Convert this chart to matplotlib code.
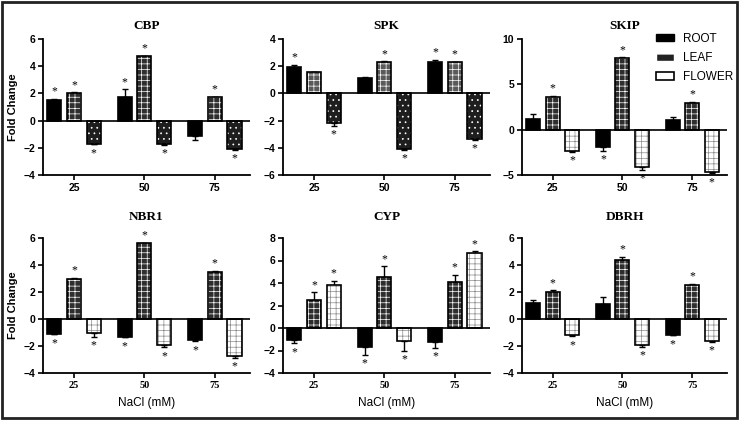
import numpy as np
import matplotlib
matplotlib.use('Agg')
import matplotlib.pyplot as plt
from matplotlib.patches import Rectangle, Patch

# NaCl concentration groups and tissues
conc = ['25', '50', '75']
tissues = ['ROOT', 'LEAF', 'FLOWER']

# fold change per gene: rows = ROOT, LEAF, FLOWER ; cols = 25, 50, 75 mM
cbp = [[1.54, 1.74, -1.10], [2.03, 4.73, 1.72], [-1.69, -1.72, -2.06]]
cbp_err = [[0.05, 0.55, 0.30], [0.05, 0.05, 0.05], [0.05, 0.05, 0.10]]
cbp_sig = [[1, 1, 0], [1, 1, 1], [1, 1, 1]]

spk = [[1.92, 1.13, 2.31], [1.55, 2.31, 2.28], [-2.14, -4.08, -3.32]]
spk_err = [[0.17, 0.07, 0.17], [0.05, 0.05, 0.05], [0.25, 0.05, 0.07]]
spk_sig = [[1, 0, 1], [0, 1, 1], [1, 1, 1]]

skip = [[1.18, -1.92, 1.03], [3.62, 7.86, 2.99], [-2.32, -4.10, -4.72]]
skip_err = [[0.52, 0.40, 0.40], [0.10, 0.10, 0.05], [0.10, 0.30, 0.10]]
skip_sig = [[0, 1, 0], [1, 1, 1], [1, 1, 1]]

nbr1 = [[-1.09, -1.31, -1.53], [2.99, 5.60, 3.51], [-1.04, -1.93, -2.72]]
nbr1_err = [[0.05, 0.05, 0.12], [0.08, 0.05, 0.08], [0.27, 0.17, 0.17]]
nbr1_sig = [[1, 1, 1], [1, 1, 1], [1, 1, 1]]

cyp = [[-1.04, -1.72, -1.27], [2.46, 4.50, 4.06], [3.85, -1.13, 6.67]]
cyp_err = [[0.30, 0.65, 0.47], [0.71, 0.98, 0.68], [0.33, 0.89, 0.15]]
cyp_sig = [[1, 1, 1], [1, 1, 1], [1, 1, 1]]

dbrh = [[1.19, 1.14, -1.16], [2.00, 4.35, 2.54], [-1.20, -1.95, -1.63]]
dbrh_err = [[0.25, 0.49, 0.05], [0.12, 0.25, 0.05], [0.07, 0.12, 0.05]]
dbrh_sig = [[0, 0, 1], [1, 1, 1], [1, 1, 1]]

genes = ['CBP', 'SPK', 'SKIP', 'NBR1', 'CYP', 'DBRH']
values = [cbp, spk, skip, nbr1, cyp, dbrh]
errors = [cbp_err, spk_err, skip_err, nbr1_err, cyp_err, dbrh_err]
signif = [cbp_sig, spk_sig, skip_sig, nbr1_sig, cyp_sig, dbrh_sig]
ylims = [(-4, 6), (-6, 4), (-5, 10), (-4, 6), (-4, 8), (-4, 6)]
ysteps = [2, 2, 5, 2, 2, 2]

plt.rcParams['hatch.linewidth'] = 0.5

# fill styles: (face, hatch colour, hatch)
SOLID = ('black', 'black', None)
BRICK_DARK = ('#2e2e2e', 'white', '+++')
BRICK_MID = ('#5a5a5a', 'white', '+++')
BRICK_LIGHT = ('white', '#8a8a8a', '+++')
DOTS = ('#1e1e1e', 'white', '...')
styles = [
    [SOLID, BRICK_DARK, DOTS],
    [SOLID, BRICK_MID, DOTS],
    [SOLID, BRICK_DARK, BRICK_LIGHT],
    [SOLID, BRICK_DARK, BRICK_LIGHT],
    [SOLID, BRICK_DARK, BRICK_LIGHT],
    [SOLID, BRICK_DARK, BRICK_LIGHT],
]

sans = 'Liberation Sans'
serif = 'Liberation Serif'

fig = plt.figure(figsize=(7.4, 4.21), dpi=100)
W, H = 740, 421
col_px = [(43, 250), (283, 490), (522, 727)]
row_px = [(39, 175), (238, 373)]

x = np.arange(3)
bw = 0.2
off = 0.28

for i, gene in enumerate(genes):
    r, c = divmod(i, 3)
    x0, x1 = col_px[c]
    yt, yb = row_px[r]
    ax = fig.add_axes([x0 / W, 1 - yb / H, (x1 - x0) / W, (yb - yt) / H])
    for j in range(3):
        xs = x + (j - 1) * off
        v = np.array(values[i][j])
        e = np.array(errors[i][j])
        fc, hc, hatch = styles[i][j]
        ax.bar(xs, v, bw, color=fc, edgecolor=hc, hatch=hatch, linewidth=0, zorder=2)
        ax.bar(xs, v, bw, fill=False, edgecolor='black', linewidth=1.2, zorder=3)
        lo = np.where(v < 0, e, 0)
        hi = np.where(v >= 0, e, 0)
        ax.errorbar(xs, v, yerr=[lo, hi], fmt='none', ecolor='black', elinewidth=1,
                    capsize=2.5, capthick=1, zorder=1)
        for k in range(3):
            if signif[i][j][k]:
                if v[k] >= 0:
                    ax.annotate('*', (xs[k], v[k] + e[k]), xytext=(0, 1), textcoords='offset points',
                                ha='center', va='bottom', fontsize=8.5, fontfamily=serif)
                else:
                    ax.annotate('*', (xs[k], v[k] - e[k]), xytext=(0, -2), textcoords='offset points',
                                ha='center', va='top', fontsize=8.5, fontfamily=serif)
    ax.axhline(0, color='black', lw=1.2, zorder=4)
    ax.set_xlim(-0.44, 2.5)
    ax.set_ylim(*ylims[i])
    ax.set_yticks(np.arange(ylims[i][0], ylims[i][1] + 0.1, ysteps[i]))
    ax.set_xticks(x)
    ax.set_xticklabels(conc)
    for s in ['top', 'right']:
        ax.spines[s].set_visible(False)
    for s in ['left', 'bottom']:
        ax.spines[s].set_linewidth(1.3)
    ax.tick_params(width=1.2, length=3.5, pad=2)
    for lab in ax.get_yticklabels():
        lab.set_fontfamily(sans)
        lab.set_fontweight('bold')
        lab.set_fontsize(7.5)
    for lab in ax.get_xticklabels():
        lab.set_fontfamily(sans if r == 0 else serif)
        lab.set_fontweight('bold')
        lab.set_fontsize(7.5)
    ax.set_title(gene, fontfamily=serif, fontweight='bold', fontsize=9.5, pad=7 if r == 0 else 13)
    if c == 0:
        ax.set_ylabel('Fold Change', fontfamily=sans, fontweight='bold', fontsize=8, labelpad=4)
    if r == 1:
        ax.set_xlabel('NaCl (mM)', fontfamily=sans, fontsize=8.5, labelpad=5)
    if gene == 'SKIP':
        handles = [Patch(facecolor='black', edgecolor='black'),
                   Patch(facecolor='#222222', edgecolor='white', hatch='--'),
                   Patch(facecolor='white', edgecolor='black', linewidth=1.2)]
        fig.legend(handles, tissues, loc='upper left', bbox_to_anchor=(650 / W, 1 - 27 / H),
                   frameon=False, prop={'family': sans, 'size': 8.5}, handlelength=1.5,
                   handleheight=0.6, labelspacing=0.6, handletextpad=0.8, borderpad=0)

fig.add_artist(Rectangle((0.003, 0.006), 0.993, 0.99, transform=fig.transFigure,
                         fill=False, edgecolor='#222222', linewidth=2))
fig.savefig('out.png', dpi=100)
plt.close()
